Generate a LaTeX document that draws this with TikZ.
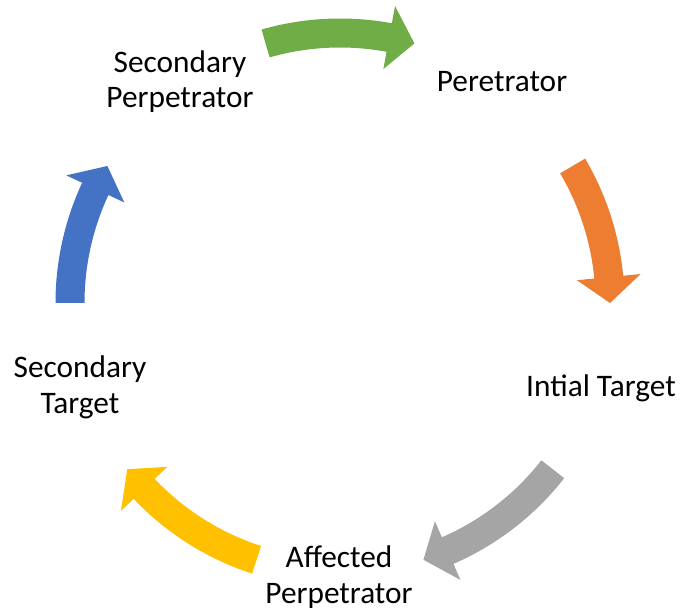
\documentclass[tikz,border=0pt]{standalone}
\usepackage{fontspec}
\setmainfont{Carlito}
\definecolor{cgreen}{HTML}{70AD47}
\definecolor{corange}{HTML}{ED7D31}
\definecolor{cgray}{HTML}{A5A5A5}
\definecolor{cyellow}{HTML}{FFC000}
\definecolor{cblue}{HTML}{4472C4}
\newcommand\cyclearrow[3]{%
  \pgfmathsetmacro\ae{#2+5.5}%
  \fill[#3] (#1:284.5) arc[start angle=#1, end angle=\ae, radius=284.5]
    -- (\ae:302) -- (#2:270) -- (\ae:238) -- (\ae:255.5)
    arc[start angle=\ae, end angle=#1, radius=255.5] -- cycle;}
\begin{document}
\begin{tikzpicture}[x=0.75pt,y=0.75pt,
  lbl/.style={inner sep=0pt, anchor=base, align=center, text=black,
    font=\fontsize{23.5pt}{26.3pt}\selectfont}]
\useasboundingbox (0,0) rectangle (680,607);
\begin{scope}[shift={(340,304)}]
  \cyclearrow{106}{74}{cgreen}
  \cyclearrow{30.5}{0}{corange}
  \cyclearrow{-38}{-72}{cgray}
  \cyclearrow{-108}{-142}{cyellow}
  \cyclearrow{180}{149.5}{cblue}
\end{scope}
\node[lbl] (sp) at (180,499) {Secondary\\Perpetrator};
\node[lbl] (p) at (502,515) {Peretrator};
\node[lbl] (it) at (601,211) {Intial Target};
\node[lbl] (st) at (80,194) {Secondary\\Target};
\node[lbl] (ap) at (339,4) {Affected\\Perpetrator};
\end{tikzpicture}
\end{document}
